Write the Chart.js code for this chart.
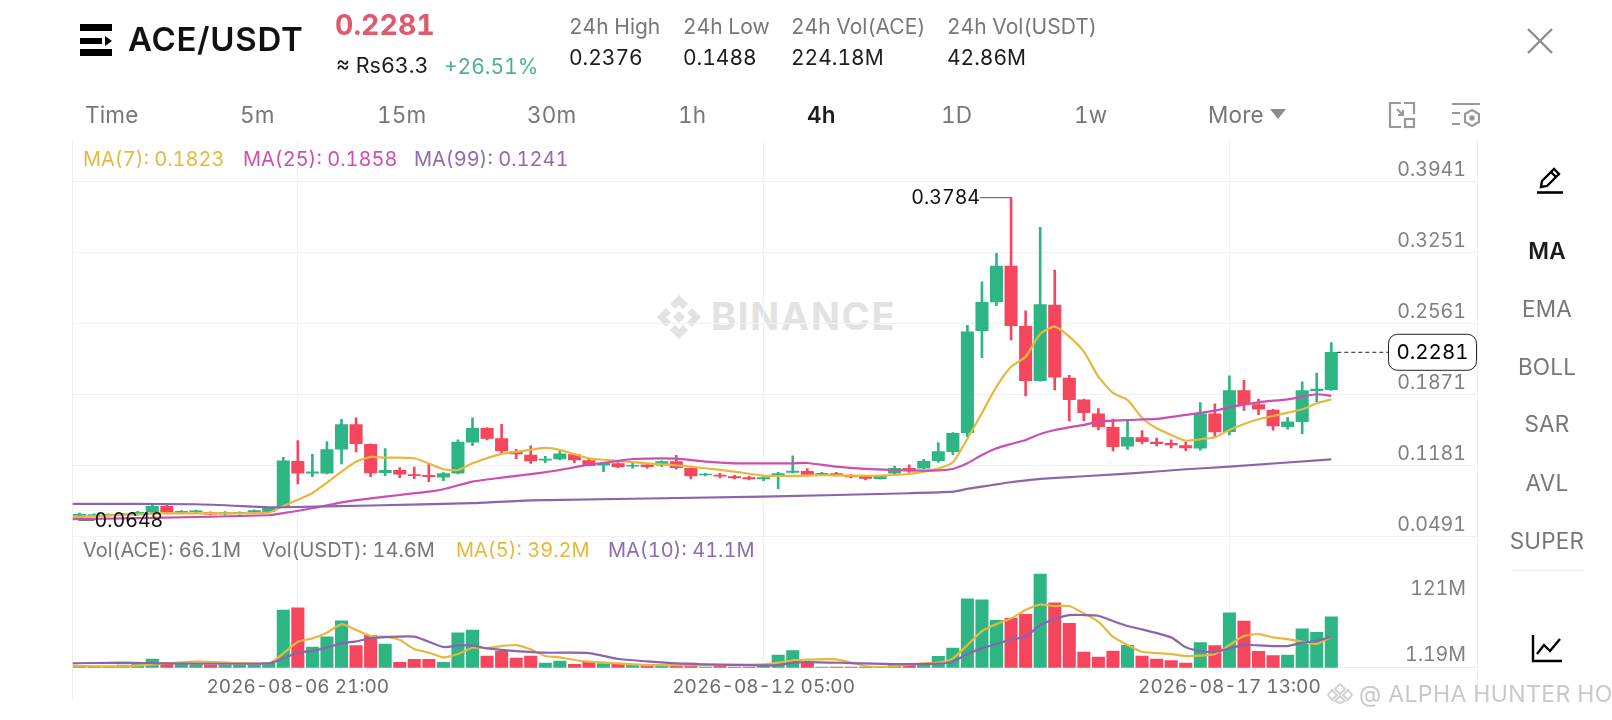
<!DOCTYPE html>
<html>
<head>
<meta charset="utf-8">
<title>ACE/USDT</title>
<script src="https://cdn.jsdelivr.net/npm/chart.js@4/dist/chart.umd.min.js"></script>
<style>
html,body{margin:0;padding:0;background:#fff;width:1612px;height:720px;overflow:hidden;font-family:Inter,"Noto Sans",sans-serif;font-variant-numeric:tabular-nums;}
.t{position:absolute;white-space:nowrap;transform:translateY(-50%);line-height:1;}
.c{transform:translate(-50%,-50%);}
.g{color:#777;} .d{color:#1c1c1c;}
.s{font-size:21px;} .m{font-size:20px;} .b{font-size:22.5px;letter-spacing:.2px;}
canvas{position:absolute;left:0;}
.vline{position:absolute;width:1px;background:#eeeeee;top:141px;height:558px;}
svg{position:absolute;}
</style>
</head>
<body>
<!-- watermark sits under the charts -->
<svg style="left:656px;top:294px" width="46" height="46" viewBox="0 0 46 46" fill="#e2e2e2">
  <path d="M23 1l9 9-5 5-4-4-4 4-5-5zM10 14l5 5-5 4 5 5-5 5-9-10zM36 14l9 9-9 10-5-5 5-5-5-4zM23 17l6 6-6 6-6-6zM23 35l4-4 5 5-9 9-9-9 5-5z"/>
</svg>
<div class="t" style="left:711px;top:316px;font-size:38px;font-weight:700;color:#e2e2e2;letter-spacing:1.7px">BINANCE</div>

<div class="vline" style="left:72px"></div>
<div class="vline" style="left:1477px"></div>
<canvas id="priceChart" width="1612" height="537" style="top:0"></canvas>
<canvas id="volChart" width="1612" height="183" style="top:537px"></canvas>

<svg style="left:80px;top:24px" width="33" height="32" fill="#000"><rect width="32" height="7"/><rect y="14" width="22" height="6"/><path d="M25 12l7 5-7 5z"/><rect y="25" width="32" height="7"/></svg>
<div class="t d" style="left:128px;top:39px;font-size:33px;font-weight:600;letter-spacing:.7px;color:#111">ACE/USDT</div>
<div class="t" style="left:335px;top:25px;font-size:28.5px;font-weight:700;color:#df5a6f">0.2281</div>
<div class="t d" style="left:336px;top:66px;font-size:21.5px">≈ Rs63.3</div>
<div class="t" style="left:444px;top:66px;font-size:21px;color:#4cb28f">+26.51%</div>

<div class="t g s" style="left:569px;top:26px">24h High</div>
<div class="t d s" style="left:569px;top:57px">0.2376</div>
<div class="t g s" style="left:683px;top:26px">24h Low</div>
<div class="t d s" style="left:683px;top:57px">0.1488</div>
<div class="t g s" style="left:791px;top:26px">24h Vol(ACE)</div>
<div class="t d s" style="left:791px;top:57px">224.18M</div>
<div class="t g s" style="left:947px;top:26px">24h Vol(USDT)</div>
<div class="t d s" style="left:947px;top:57px">42.86M</div>

<svg style="left:1526px;top:27px" width="28" height="28" stroke="#8c8c8c" stroke-width="2.4"><path d="M2 2L26 26M26 2L2 26"/></svg>

<div class="t g b" style="left:85px;top:115px">Time</div>
<div class="t g b" style="left:240px;top:115px">5m</div>
<div class="t g b" style="left:377px;top:115px">15m</div>
<div class="t g b" style="left:527px;top:115px">30m</div>
<div class="t g b" style="left:678px;top:115px">1h</div>
<div class="t d b" style="left:807px;top:115px;font-weight:600">4h</div>
<div class="t g b" style="left:941px;top:115px">1D</div>
<div class="t g b" style="left:1074px;top:115px">1w</div>
<div class="t g b" style="left:1208px;top:115px">More</div>
<svg style="left:1270px;top:109px" width="16" height="11" fill="#8c8c8c"><path d="M0 0H16L8 10z"/></svg>

<svg style="left:1388px;top:101px" width="28" height="28" fill="none" stroke="#999" stroke-width="2.2"><path d="M13 2H2V26H13M16 2H26V13"/><rect x="17" y="18" width="9" height="8"/><path d="M9 8L15 14M15 9V14H10"/></svg>
<svg style="left:1452px;top:102px" width="28" height="27" fill="none" stroke="#999" stroke-width="2.2"><path d="M0 2H28M0 11H8M0 22H8"/><path d="M20 8l7 4v8l-7 4-7-4v-8z"/><circle cx="20" cy="16" r="1.6" fill="#999"/></svg>

<div class="t m" style="left:83px;top:159px;color:#e5b93f">MA(7): 0.1823</div>
<div class="t m" style="left:243px;top:159px;color:#cf4fb0">MA(25): 0.1858</div>
<div class="t m" style="left:414px;top:159px;color:#8f6bb0">MA(99): 0.1241</div>

<div class="t g m" style="left:83px;top:550px">Vol(ACE): 66.1M</div>
<div class="t g m" style="left:262px;top:550px">Vol(USDT): 14.6M</div>
<div class="t m" style="left:456px;top:550px;color:#e5b93f">MA(5): 39.2M</div>
<div class="t m" style="left:608px;top:550px;color:#8f6bb0">MA(10): 41.1M</div>

<svg style="left:1536px;top:165px" width="28" height="30" fill="none" stroke="#000" stroke-width="2.4"><path d="M5 22l1-6L18 4l5 5L11 21z"/><path d="M15 7l5 5"/><path d="M1 27.5H27" stroke-width="2.6"/></svg>
<div class="t c d b" style="left:1547px;top:251px;font-weight:600">MA</div>
<div class="t c g b" style="left:1547px;top:309px">EMA</div>
<div class="t c g b" style="left:1547px;top:367px">BOLL</div>
<div class="t c g b" style="left:1547px;top:424px">SAR</div>
<div class="t c g b" style="left:1547px;top:483px">AVL</div>
<div class="t c g b" style="left:1547px;top:541px">SUPER</div>
<div style="position:absolute;left:1512px;top:570px;width:72px;height:1px;background:#eee"></div>
<svg style="left:1531px;top:634px" width="32" height="30" fill="none" stroke="#000" stroke-width="2.4"><path d="M2 1V27H31"/><path d="M6 20L13 11L19 17L29 5"/></svg>

<svg style="left:1326px;top:682px" width="28" height="22" fill="none" stroke="#d2d2d2" stroke-width="2"><path d="M14 2l5 5-5 5-5-5zM6 8l5 5-5 5-4-5zM22 8l4 5-4 5-5-5zM14 14l5 5-5 2-5-2z"/></svg>
<div class="t" style="left:1359px;top:694px;font-size:23px;color:#c8c8c8;letter-spacing:.4px">@ ALPHA HUNTER HO</div>

<script>
var opens = [.0695,.0695,.0697,.0700,.0710,.0726,.0785,.0724,.0729,.0722,.0710,.0716,.0732,.0732,
  .0781,.1222,.1105,.1105,.1339,.1578,.1387,.1111,.1134,.1092,.1086,.1066,.1105,.1407,.1543,.1442,
  .1315,.1283,.1232,.1244,.1286,.1228,.1183,.1199,.1173,.1186,.1183,.1218,.1154,.1088,.1088,.1072,
  .1063,.1050,.1086,.1114,.1124,.1095,.1101,.1086,.1072,.1053,.1105,.1154,.1154,.1228,.1315,.1500,
  .2491,.2770,.3120,.2534,.2005,.2741,.2031,.1818,.1682,.1552,.1368,.1451,.1409,.1397,.1374,.1348,
  .1682,.1510,.1908,.1772,.1720,.1558,.1607,.1908,.1918];
var closes = [.0705,.0702,.0705,.0710,.0726,.0785,.0726,.0734,.0739,.0707,.0724,.0724,.0742,.0765,
  .1225,.1105,.1118,.1335,.1578,.1393,.1108,.1134,.1096,.1082,.1072,.1101,.1409,.1543,.1445,.1322,
  .1293,.1225,.1244,.1293,.1235,.1179,.1202,.1170,.1183,.1170,.1218,.1160,.1079,.1098,.1076,.1060,
  .1050,.1063,.1101,.1127,.1095,.1105,.1088,.1069,.1056,.1079,.1154,.1127,.1222,.1315,.1494,.2481,
  .2767,.3120,.2540,.2005,.2744,.2038,.1821,.1694,.1558,.1364,.1455,.1412,.1393,.1380,.1351,.1682,
  .1506,.1908,.1772,.1727,.1565,.1604,.1908,.1924,.2281];
var highs = [.0719,.0710,.0712,.0716,.0735,.0797,.0797,.0742,.0748,.0730,.0732,.0730,.0750,.0772,
  .1261,.1422,.1290,.1412,.1630,.1643,.1392,.1344,.1160,.1165,.1196,.1111,.1429,.1643,.1548,.1582,
  .1339,.1371,.1270,.1322,.1293,.1247,.1208,.1208,.1202,.1202,.1225,.1280,.1160,.1105,.1105,.1086,
  .1076,.1079,.1114,.1274,.1150,.1114,.1114,.1095,.1085,.1086,.1176,.1186,.1241,.1403,.1500,.2544,
  .2967,.3243,.3784,.2685,.3496,.3081,.2058,.1825,.1733,.1632,.1617,.1519,.1448,.1429,.1409,.1791,
  .1779,.2051,.2009,.1827,.1727,.1649,.1995,.2080,.2376];
var lows = [.0648,.0685,.0690,.0693,.0700,.0719,.0710,.0716,.0720,.0700,.0700,.0708,.0724,.0726,
  .0778,.1001,.1072,.1098,.1196,.1312,.1072,.1082,.1063,.1053,.1024,.1033,.1098,.1374,.1429,.1293,
  .1247,.1202,.1208,.1235,.1208,.1176,.1121,.1160,.1154,.1154,.1170,.1144,.1053,.1079,.1060,.1050,
  .1040,.1033,.0956,.1108,.1088,.1088,.1079,.1060,.1040,.1047,.1098,.1114,.1150,.1212,.1286,.1461,
  .2229,.2734,.2401,.1857,.2000,.1915,.1613,.1616,.1526,.1322,.1338,.1390,.1371,.1351,.1325,.1329,
  .1455,.1477,.1717,.1675,.1523,.1533,.1490,.1801,.1910];
var volumes = [1.8,1.8,2.3,4.9,6.7,15.7,7.7,6.7,5.4,4.9,4.9,4.9,4.9,9.0,
  103.9,108.0,37.3,55.8,84.6,39.6,58.1,42.7,9.5,14.9,14.9,9.5,63.0,67.9,21.1,29.3,17.5,21.1,8.5,12.1,
  5.9,10.3,7.2,7.2,5.4,4.1,3.6,4.9,8.5,1.3,4.1,1.3,1.3,2.3,22.9,30.6,7.7,1.3,1.3,1.3,0.9,1.3,6.7,5.4,
  6.7,20.3,35.5,124.2,122.4,85.1,89.5,95.9,168.7,117.0,79.7,28.3,19.3,30.1,40.1,21.1,15.7,12.6,8.5,
  45.0,39.6,99.0,84.1,29.3,21.6,22.9,70.2,63.5,91.8];

// moving averages at these candle positions
var ma7Idx = [-1,6,13,14,16,18,19,20,21,23,25,26,27,29,31,32,33,35,37,39,41,43,45,47,49,51,53,55,57,58,59,60,61,62,63,64,65,66,67,68,69,70,71,72,73,74,75,76,77,78,79,80,81,82,83,84,85,86];
var ma7 = [.0676,.0715,.0722,.0788,.0914,.1121,.1218,.1264,.1257,.1251,.1144,.1137,.1202,.1293,.1332,.1351,.1332,.1251,.1225,.1202,.1183,.1154,.1121,.1082,.1079,.1086,.1082,.1082,.1098,.1121,.1150,.1212,.1442,.1691,.1947,.2141,.2238,.2459,.2530,.2433,.2287,.2044,.1886,.1818,.1643,.1543,.1478,.1422,.1436,.1455,.1526,.1584,.1630,.1662,.1694,.1727,.1786,.1823];
var ma25Idx = [-1,5,13,14,16,18,20,22,24,25,27,29,31,33,35,37,38,41,43,45,47,49,50,52,54,56,58,59,60,61,62,63,64,65,66,67,68,69,70,71,72,74,76,78,79,81,83,84,85,86];
var ma25 = [.0658,.0671,.0697,.0717,.0765,.0823,.0862,.0894,.0926,.0950,.1024,.1063,.1096,.1137,.1189,.1225,.1244,.1247,.1218,.1202,.1202,.1202,.1205,.1169,.1147,.1137,.1131,.1134,.1147,.1202,.1283,.1348,.1390,.1429,.1487,.1526,.1552,.1575,.1607,.1616,.1623,.1633,.1672,.1714,.1747,.1795,.1824,.1850,.1873,.1858];
var ma99Idx = [-1,8,13,14,20,27,31,47,57,60,61,62,63,64,66,72,76,79,86];
var ma99 = [.0807,.0804,.0775,.0775,.0792,.0814,.0841,.0878,.0911,.0926,.0953,.0975,.0998,.1018,.1050,.1101,.1144,.1169,.1241];
var volMa5Idx = [-1,3,8,13,14,15,16,17,18,19,20,21,22,23,24,25,26,27,28,29,30,31,32,33,34,35,37,39,43,47,48,49,50,52,54,55,56,58,59,60,61,62,63,64,65,66,67,68,69,70,71,72,73,75,76,77,78,79,80,81,82,83,84,85,86];
var volMa5 = [4,2.5,10.8,7.8,25.8,46.8,52.8,63,78.6,67.8,57,55.8,49.8,33.6,27,18.6,24.6,36,35.4,39,40.8,33,21,18.6,13.8,10.8,7.8,4.8,4.8,6,9,13.2,14.4,15,3,1.2,3,7.8,9,16.8,40.8,66,78.6,88.8,103.8,113.4,111,111,97.8,82.8,55.8,40.8,28.8,24.6,21,21.6,24.6,40.8,57,60.6,54.6,51.6,46.8,42.7,55.8];
var volMa10Idx = [-1,3,6,13,14,15,16,17,18,19,20,21,23,25,26,27,28,30,32,35,37,39,41,43,47,48,49,50,53,56,59,60,61,62,63,64,65,66,67,68,69,70,71,72,73,75,76,77,78,79,80,81,82,83,84,85,86];
var volMa10 = [7.8,9,7.8,7.8,16.8,27,30,36.6,43.8,47.4,52.8,55.2,55.8,37.2,40.2,40.2,34.8,30,27,26.4,15.6,11.4,7.8,6,4.2,4.8,9,10.2,8.4,6.6,7.2,10.8,24.6,34.8,42.6,51,55.8,76.8,87.6,94.8,94.8,93.6,84,75,69,54.6,36.6,30,28.2,34.8,40.8,40.2,39,39,45,48,55.8];

var priceTicks = [.3941,.3251,.2561,.1871,.1181,.0491];
var volTicks = [1.19,121];
var volTickLabels = ["1.19M","121M"];
var timeTickIdx = [15,47,79];
var timeTickLabels = ["2026-08-06 21:00","2026-08-12 05:00","2026-08-17 13:00"];
var highLabel = "0.3784", lowLabel = "0.0648", lastLabel = "0.2281";

var UP = "#2db683", DOWN = "#f5465e", GRID = "#f1f1f1";
var C_MA7 = "#e5b93f", C_MA25 = "#cc4fb0", C_MA99 = "#8a64ad";
var FONT = "Inter";
var xMin = -0.467, xMax = 96.01;

var candleColors = closes.map(function(c,i){ return c >= opens[i] ? UP : DOWN; });
function pairs(xs, ys){ return xs.map(function(x,i){ return {x:x, y:ys[i]}; }); }
function lineSet(xs, ys, color){
	return {type:"line", data:pairs(xs,ys), borderColor:color, borderWidth:2.2, pointRadius:0, fill:false, order:0, tension:0.2};
}
function noPadding(s){ s.paddingTop = 0; s.paddingBottom = 0; s.paddingLeft = 0; s.paddingRight = 0; }
function xScale(showLabels){
	return {
		type:"linear", min:xMin, max:xMax, offset:false,
		afterBuildTicks:function(s){ s.ticks = timeTickIdx.map(function(v){ return {value:v}; }); },
		afterFit:function(s){ s.height = showLabels ? 52.3 : 0; noPadding(s); },
		grid:{color:GRID, drawTicks:false, offset:false},
		border:{display:showLabels, color:"#eeeeee"},
		ticks:{display:showLabels, autoSkip:false, maxRotation:0, padding:8, color:"#6c6c6c", font:{family:FONT,size:19},
			callback:function(v){ return timeTickLabels[timeTickIdx.indexOf(v)]; }}
	};
}

// high / low marks and the last price box
var priceLabels = {
	id:"priceLabels",
	afterDraw:function(chart){
		var ctx = chart.ctx, x = chart.scales.x, y = chart.scales.y;
		var hi = highs.indexOf(Math.max.apply(null,highs)), lo = lows.indexOf(Math.min.apply(null,lows));
		ctx.save();
		ctx.font = "19.6px "+FONT; ctx.textBaseline = "middle"; ctx.fillStyle = "#111"; ctx.strokeStyle = "#555"; ctx.lineWidth = 1;
		var hx = x.getPixelForValue(hi), hy = y.getPixelForValue(highs[hi]);
		ctx.beginPath(); ctx.moveTo(hx,hy); ctx.lineTo(hx-31,hy); ctx.stroke();
		ctx.textAlign = "right"; ctx.fillText(highLabel, hx-31, hy);
		var lx = x.getPixelForValue(lo), ly = y.getPixelForValue(lows[lo]);
		ctx.beginPath(); ctx.moveTo(lx,ly); ctx.lineTo(lx+15,ly); ctx.stroke();
		ctx.textAlign = "left"; ctx.fillText(lowLabel, lx+15, ly+1);
		var last = closes.length-1, px = x.getPixelForValue(last), py = y.getPixelForValue(closes[last]);
		ctx.setLineDash([4,3]); ctx.strokeStyle = "#222";
		ctx.beginPath(); ctx.moveTo(px+6,py); ctx.lineTo(1388,py); ctx.stroke();
		ctx.setLineDash([]);
		ctx.fillStyle = "#fff"; ctx.beginPath(); ctx.roundRect(1388.5,py-18,88,36,9); ctx.fill(); ctx.stroke();
		ctx.fillStyle = "#000"; ctx.font = "20.5px "+FONT; ctx.textAlign = "center"; ctx.fillText(lastLabel, 1432.5, py+1);
		ctx.restore();
	}
};

new Chart(document.getElementById("priceChart"), {
	type:"bar",
	plugins:[priceLabels],
	data:{datasets:[
		lineSet(ma99Idx, ma99, C_MA99),
		lineSet(ma25Idx, ma25, C_MA25),
		lineSet(ma7Idx, ma7, C_MA7),
		{data:opens.map(function(o,i){ return {x:i, y:[o,closes[i]]}; }), backgroundColor:candleColors, barThickness:12.4, grouped:false, order:1, minBarLength:1},
		{data:lows.map(function(l,i){ return {x:i, y:[l,highs[i]]}; }), backgroundColor:candleColors, barThickness:2, grouped:false, order:2}
	]},
	options:{
		responsive:false, animation:false, events:[],
		layout:{padding:{left:72.7,right:135,top:141,bottom:0}},
		plugins:{legend:{display:false},tooltip:{enabled:false}},
		scales:{
			x:xScale(false),
			y:{
				position:"right", min:.04857, max:.43346,
				afterBuildTicks:function(s){ s.ticks = priceTicks.map(function(v){ return {value:v}; }); },
				afterFit:function(s){ s.width = 0; noPadding(s); },
				grid:{color:GRID, drawTicks:false},
				border:{display:false},
				ticks:{mirror:true, padding:-11, labelOffset:-11, color:"#808080", font:{family:FONT,size:19.6},
					callback:function(v){ return v.toFixed(4); }}
			}
		}
	}
});

new Chart(document.getElementById("volChart"), {
	type:"bar",
	data:{datasets:[
		lineSet(volMa10Idx, volMa10, C_MA99),
		lineSet(volMa5Idx, volMa5, C_MA7),
		{data:volumes.map(function(v,i){ return {x:i, y:v}; }), backgroundColor:candleColors, barThickness:12.4, order:1}
	]},
	options:{
		responsive:false, animation:false, events:[],
		layout:{padding:{left:72.7,right:135,top:0,bottom:0}},
		plugins:{legend:{display:false},tooltip:{enabled:false}},
		scales:{
			x:xScale(true),
			y:{
				position:"right", min:0, max:235.3,
				afterBuildTicks:function(s){ s.ticks = volTicks.map(function(v){ return {value:v}; }); },
				afterFit:function(s){ s.width = 0; noPadding(s); },
				grid:{display:false, drawTicks:false},
				border:{display:false},
				ticks:{mirror:true, padding:-11, labelOffset:-11.5, color:"#808080", font:{family:FONT,size:19.6},
					callback:function(v){ return volTickLabels[volTicks.indexOf(v)]; }}
			}
		}
	}
});
</script>
</body>
</html>
